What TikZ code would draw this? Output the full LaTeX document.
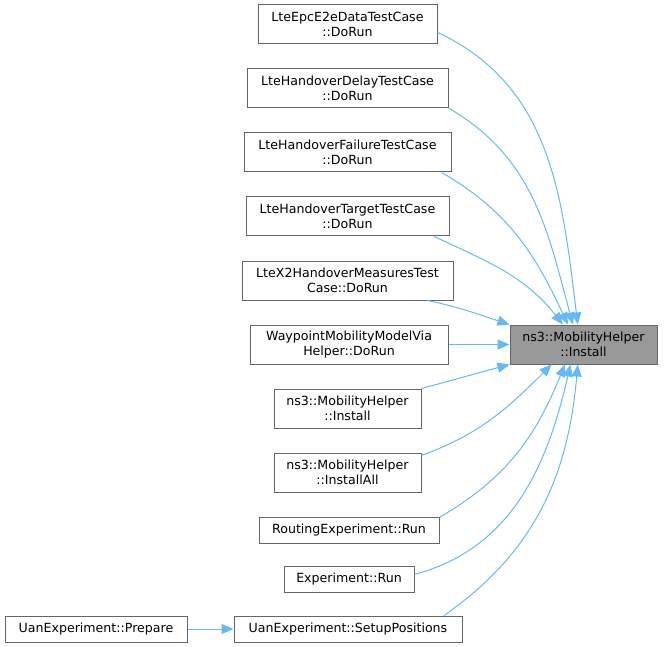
\documentclass[tikz,border=0pt]{standalone}
\usepackage{fontspec}
\setmainfont{DejaVu Sans}
\usetikzlibrary{arrows.meta}
\begin{document}
\begin{tikzpicture}[x=1pt, y=-1pt,
    fn/.style={draw=black!60, line width=1pt, fill=white, align=center, inner sep=0pt,
               minimum height=39, font=\fontsize{12.6}{15.3}\selectfont},
    fnone/.style={fn, minimum height=26},
    call/.style={draw={rgb,255:red,99;green,184;blue,255}, line width=1pt,
                 -{Triangle[length=12pt,width=10pt]}}]

\useasboundingbox (0,0) rectangle (664,647);

% callers
\node[fn, minimum width=179] (e2e) at (347.5,24.5) {LteEpcE2eDataTestCase\\::DoRun};
\node[fn, minimum width=201] (delay) at (347.5,88.5) {LteHandoverDelayTestCase\\::DoRun};
\node[fn, minimum width=207] (failure) at (347.5,152.5) {LteHandoverFailureTestCase\\::DoRun};
\node[fn, minimum width=203] (target) at (347.5,216.5) {LteHandoverTargetTestCase\\::DoRun};
\node[fn, minimum width=211] (xtwo) at (347.5,280.5) {LteX2HandoverMeasuresTest\\Case::DoRun};
\node[fn, minimum width=198] (waypoint) at (349,344.5) {WaypointMobilityModelVia\\Helper::DoRun};
\node[fn, minimum width=147] (install) at (347.5,408.5) {ns3::MobilityHelper\\::Install};
\node[fn, minimum width=147] (installall) at (347.5,472.5) {ns3::MobilityHelper\\::InstallAll};
\node[fnone, minimum width=180] (routing) at (349,530) {RoutingExperiment::Run};
\node[fnone, minimum width=130] (exprun) at (349,579) {Experiment::Run};
\node[fnone, minimum width=228] (setup) at (348,629) {UanExperiment::SetupPositions};
\node[fnone, minimum width=182] (prepare) at (96,629) {UanExperiment::Prepare};

% the called function
\node[fn, fill=black!40, minimum width=147] (main) at (583.5,344.5) {ns3::MobilityHelper\\::Install};

\foreach \src/\from/\to/\o/\i in {e2e/-5/106/-25/97, delay/-11/118/-30/105,
        failure/-12/128/-30/115, target/-13/136/-25/128} {
    \draw[call] (\src.\from) to[out=\o, in=\i] (main.\to);
}
\draw[call] (xtwo.-14) to[out=-12, in=162] (main.north west);
\draw[call] (waypoint) -- (main);
\draw[call] (install.north east) to[out=15, in=195] (main.south west);

\foreach \src/\from/\to/\o/\i in {installall/13/-148/20/-135, routing/8/-133/30/-112,
        exprun/4/-123/15/-103, setup/8/-106/35/-95} {
    \draw[call] (\src.\from) to[out=\o, in=\i] (main.\to);
}
\draw[call] (prepare) -- (setup);
\end{tikzpicture}
\end{document}
